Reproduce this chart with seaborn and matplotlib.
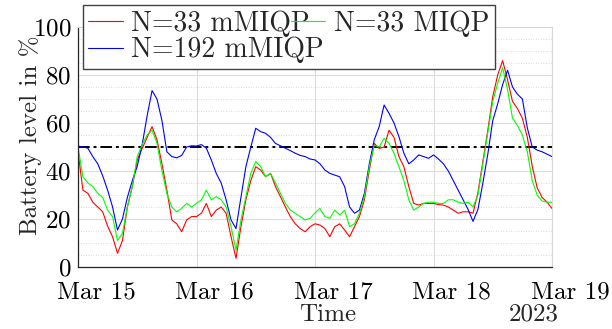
import numpy as np
import pandas as pd
import matplotlib
matplotlib.use("Agg")
import matplotlib.pyplot as plt
import matplotlib.dates as mdates
from matplotlib.transforms import ScaledTranslation
import seaborn as sns

# hourly samples, Mar 15 00:00 -> Mar 19 00:00 (97 points)
times = pd.date_range("2023-03-15 00:00", "2023-03-19 00:00", freq="1h")

red_33_mmiqp = [
    48, 32, 30.7, 27, 25, 23, 17, 12.6, 5.7, 11, 25, 33.5, 44.6, 49.4, 54, 58.5, 53, 43, 32, 19.6, 18, 14.7, 19.6, 21,
    21, 22.4, 26.5, 21, 23.7, 25, 22.4, 12.6, 3.6, 16.8, 28, 36, 41.8, 40.4, 37.6, 39, 33.5, 29.3, 25, 21, 18, 16, 14.7, 16.8,
    18, 17.5, 16, 12.6, 16.8, 18, 15.4, 12.6, 16.8, 21, 28, 40.4, 51.5, 49.4, 50, 57, 54, 46, 41.8, 33.5, 26.5, 25.8, 26.5, 26.5,
    26.5, 26, 25.8, 25, 23.7, 22.4, 23, 23, 22.4, 31, 44, 57, 71, 80, 86, 78, 69, 66, 62, 54, 42, 33, 29, 27,
    24.4,
]
green_33_miqp = [
    50, 37.6, 35, 33.5, 30.7, 29, 23.7, 21, 11, 14, 25, 33.5, 46, 51, 55, 57, 51.5, 40, 30.7, 25, 23, 24.4, 26.5, 25,
    26.5, 28, 32, 28, 29.3, 28, 25, 16.8, 7, 19.6, 29.3, 39, 44, 41.8, 37.6, 39, 35, 30.7, 26.5, 23.7, 22.4, 21, 19.6, 20.3,
    22.5, 24.4, 21, 20.3, 23.7, 21.7, 23.7, 16.8, 18, 22.4, 29.3, 41.8, 50.8, 50, 53.6, 51.5, 47.4, 41.8, 36, 28, 23.7, 25, 26.5, 27,
    27, 26.5, 26.5, 28, 28, 27, 26.5, 27, 25, 30, 43, 56, 69, 76.5, 83, 74, 62, 59, 55, 48, 36, 30, 27.5, 27,
    27,
]
blue_192_mmiqp = [
    50.4, 50, 49.5, 46, 43, 38, 32, 25, 15.4, 20, 29, 36, 42, 51, 63, 73.5, 70, 61, 48, 46, 45.5, 46.5, 50, 50.5,
    50.4, 51, 49.5, 44.6, 39, 35, 28, 19.6, 16, 29, 41.8, 50, 57.8, 56.4, 55.7, 54, 51.5, 50.5, 49.5, 48.5, 47.4, 46.5, 46, 45,
    44.6, 43, 40.4, 39, 38.3, 37.6, 33.5, 25, 22.4, 23.7, 30.7, 43, 53, 58.5, 67.5, 64, 60, 54.3, 47.4, 43, 44.6, 46.7, 46, 45.3,
    46.7, 45, 43, 40, 36, 32, 28, 24, 19, 24, 35, 47, 61, 68, 76, 82, 75, 72, 70, 58, 50, 48.7, 48, 47,
    46,
]
threshold = 50

series_names = ["N=33 mMIQP", "N=192 mMIQP", "N=33 MIQP"]
series_values = [red_33_mmiqp, blue_192_mmiqp, green_33_miqp]
series_colors = ["#ff0000", "#0000ff", "#00ff00"]

sns.set_theme(style="white")
plt.rcParams["font.family"] = ["cmr10", "DejaVu Serif"]
plt.rcParams["mathtext.fontset"] = "cm"
plt.rcParams["axes.unicode_minus"] = False
plt.rcParams["axes.formatter.use_mathtext"] = True

fig = plt.figure(figsize=(6.12, 3.29), dpi=100)
ax = fig.add_axes([78 / 612, 1 - 267 / 329, 474 / 612, 240 / 329])

for name, vals, col in zip(series_names, series_values, series_colors):
    sns.lineplot(x=times, y=vals, color=col, linewidth=0.8, label=name, ax=ax)

ax.axhline(threshold, color="black", linestyle=(0, (6, 2, 1.5, 2)), linewidth=1.4, zorder=1.5)

ax.set_xlim(times[0], times[-1])
ax.set_ylim(0, 100)
ax.set_yticks([0, 20, 40, 60, 80, 100])
ax.set_yticks(np.arange(0, 101, 5), minor=True)
day_ticks = pd.date_range("2023-03-15", "2023-03-19", freq="1D")
ax.set_xticks(day_ticks)
ax.xaxis.set_major_formatter(mdates.DateFormatter("%b %d"))

ax.grid(True, which="major", color="#dcdcdc", linewidth=0.8, linestyle="-")
ax.grid(True, which="minor", axis="y", color="#cfcfcf", linewidth=0.6, linestyle=(0, (1, 2)))
ax.set_axisbelow(True)

ax.tick_params(axis="both", which="major", direction="in", length=4, width=0.8,
               labelsize=18, colors="#262626", labelcolor="black")
ax.tick_params(axis="x", pad=10)
ax.tick_params(axis="y", pad=5)
ax.tick_params(axis="y", which="minor", length=0)

for side in ["left", "bottom"]:
    ax.spines[side].set_color("#262626")
    ax.spines[side].set_linewidth(0.9)
for side in ["top", "right"]:
    ax.spines[side].set_color("#d8d8d8")
    ax.spines[side].set_linewidth(0.8)

# x tick labels sit a little right of their ticks in the original
shift = ScaledTranslation(18 / 100, 0, fig.dpi_scale_trans)
for lbl in ax.get_xticklabels():
    lbl.set_transform(lbl.get_transform() + shift)

ax.set_xlabel("Time", fontsize=18, labelpad=0)
ax.xaxis.set_label_coords((328 - 78) / 474, -0.2)
ax.xaxis.label.set_va("center")
ax.set_ylabel("Battery level in %", fontsize=18)
ax.yaxis.set_label_coords(-0.075, 0.55)
fig.text(534 / 612, 1 - 314 / 329, "2023", fontsize=18, ha="center", va="center")

handles, labels = ax.get_legend_handles_labels()
leg = ax.legend(handles, labels, ncol=2, loc="upper left", bbox_to_anchor=(0.01, 1.092),
                fontsize=20, frameon=True, fancybox=False, framealpha=1,
                edgecolor="#404040", handlelength=1.25, handletextpad=0.3,
                columnspacing=-1.2, borderpad=0.2, labelspacing=0.0, borderaxespad=0)
leg.get_frame().set_linewidth(1.0)

fig.savefig("out.png", dpi=100)
